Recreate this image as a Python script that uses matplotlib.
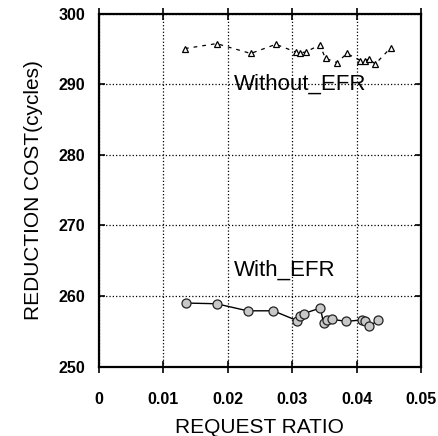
import matplotlib
matplotlib.use("Agg")
from matplotlib import pyplot as plt

# data
wo_x = [0.0134, 0.0183, 0.0236, 0.0275, 0.0306, 0.0313, 0.0321, 0.0343, 0.0352, 0.0370, 0.0385, 0.0406, 0.0413, 0.0420, 0.0429, 0.0453]
wo_y = [295.1, 295.8, 294.4, 295.7, 294.6, 294.5, 294.6, 295.6, 293.7, 293.1, 294.4, 293.4, 293.4, 293.6, 292.9, 295.2]
w_x = [0.0136, 0.0183, 0.0231, 0.0271, 0.0308, 0.0313, 0.0318, 0.0344, 0.0349, 0.0354, 0.0362, 0.0384, 0.0408, 0.0413, 0.0420, 0.0434]
w_y = [259.0, 258.9, 257.9, 257.9, 256.5, 257.2, 257.5, 258.3, 256.1, 256.6, 256.7, 256.4, 256.6, 256.4, 255.7, 256.6]
xticks = [0, 0.01, 0.02, 0.03, 0.04, 0.05]
xlabels = ["0", "0.01", "0.02", "0.03", "0.04", "0.05"]
yticks = [250, 260, 270, 280, 290, 300]

plt.rcParams['font.family'] = ['Liberation Sans', 'DejaVu Sans']
fig = plt.figure(figsize=(4.39, 4.36), dpi=100)
ax = fig.add_axes([0.2244, 0.1594, 0.7346, 0.8085])

ax.plot(wo_x, wo_y, linestyle=(0, (3, 4)), color='black', lw=0.9,
        marker='^', markersize=5, markerfacecolor='white', markeredgecolor='black', markeredgewidth=0.9)
ax.plot(w_x, w_y, linestyle='-', color='black', lw=1.0,
        marker='o', markersize=6.5, markerfacecolor='#c8c8c8', markeredgecolor='#222222', markeredgewidth=0.9)

ax.text(0.0312, 290.0, "Without_EFR", ha='center', va='center', fontsize=16)
ax.text(0.0289, 263.7, "With_EFR", ha='center', va='center', fontsize=16)

ax.set_xlim(0, 0.05)
ax.set_ylim(250, 300)
ax.set_xticks(xticks)
ax.set_xticklabels(xlabels)
ax.set_yticks(yticks)
ax.grid(True, linestyle=':', color='black', lw=0.9)
for s in ax.spines.values():
    s.set_linewidth(1.6)
ax.tick_params(axis='x', direction='inout', length=8, width=1.2, top=True, labelsize=11.5, pad=14)
ax.tick_params(axis='y', direction='in', length=4, width=1.2, right=True, labelsize=11.5, pad=9.5)
for lab in ax.get_xticklabels() + ax.get_yticklabels():
    lab.set_fontweight('bold')
ax.set_xlabel("REQUEST RATIO", fontsize=15, labelpad=8)
ax.set_ylabel("REDUCTION COST(cycles)", fontsize=15, labelpad=11)

fig.savefig("out.png", dpi=100)
